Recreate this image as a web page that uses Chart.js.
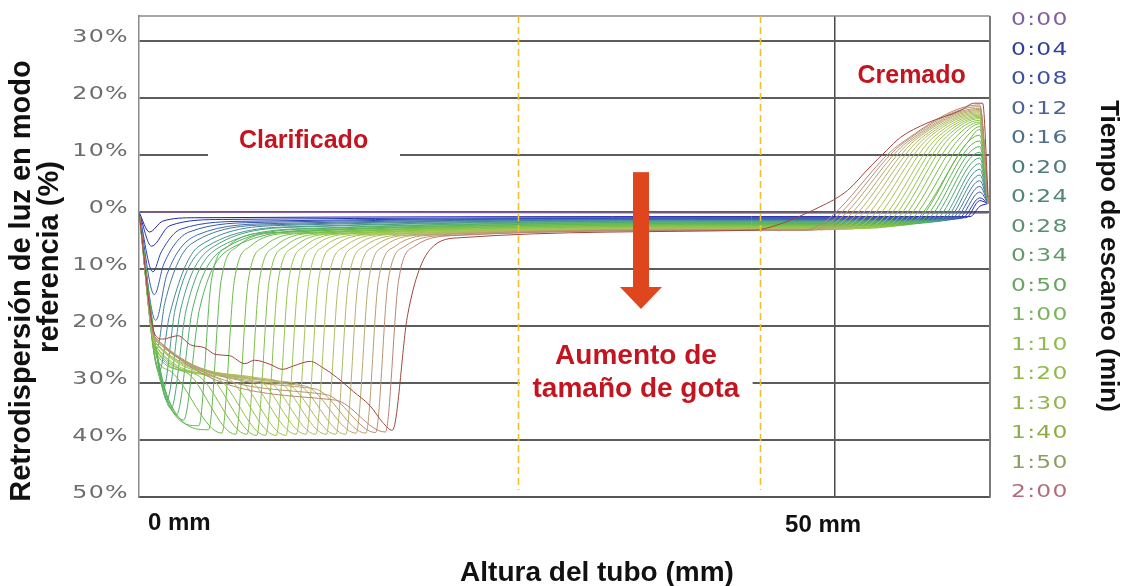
<!DOCTYPE html>
<html>
<head>
<meta charset="utf-8">
<title>Retrodispersión de luz</title>
<script src="https://cdn.jsdelivr.net/npm/chart.js"></script>
<style>
  html, body { margin: 0; padding: 0; background: #fff; }
  #wrap { width: 1124px; height: 586px; }
</style>
</head>
<body>
<div id="wrap"><canvas id="bsChart" width="1124" height="586"></canvas></div>
<script>
// axis ticks
const yTickValues = [30, 20, 10, 0, -10, -20, -30, -40, -50];
const xTickValues = [0, 50];
const xTickLabels = ["0 mm", "50 mm"];
const markerMm = [27.2, 44.6]; // yellow dashed lines

// right-hand time legend
const legendTimes = ["0:00", "0:04", "0:08", "0:12", "0:16", "0:20", "0:24", "0:28", "0:34",
  "0:50", "1:00", "1:10", "1:20", "1:30", "1:40", "1:50", "2:00"];
const legendColors = ["#7f5f9f", "#303f97", "#3e50a0", "#4e6394", "#4e6f87", "#4d7a7f", "#4f8677",
  "#599170", "#5f9a68", "#67a560", "#7bb357", "#8dbc4f", "#91ba4a", "#93b54e", "#8cae46", "#8a9e62", "#b06e7a"];

// one entry per scan (oldest first): mm / %
const dropX    = [null, 0.75, 0.9, 1.0, 1.1, 1.2, 1.3, 1.45, 1.4, 1.35, 1.35, 1.3, 1.3, 1.25, 1.2, 1.2, 1.2,
  1.2, 1.2, 1.2, 1.2, 1.2, 1.2, 1.2, 1.2, 1.2, 1.2, 1.2, 1.15, 1.15, 1.15, 1.15, 1.15];
const dropPct  = [null, -3.5, -6, -10.5, -14.5, -19, -24, -28, -27, -26, -26, -25, -25, -27, -26, -25, -24.5,
  -24, -24, -23.5, -23.5, -23, -23, -23, -23, -22.5, -22.5, -22.5, -22.5, -22, -22, -22, -21.5];
const shoulderX   = [null, null, null, null, null, null, null, null, null, null, null, null, null, null, null,
  2.3, 3.3, 4.1, 4.8, 5.5, 6.2, 6.9, 7.6, 8.3, 9.1, 9.8, 10.5, 11.2, 11.9, 12.6, 13.4, 14.1, null];
const shoulderPct = [null, null, null, null, null, null, null, null, null, null, null, null, null, null, null,
  -28, -28, -28.5, -28.5, -29, -29, -29, -29, -29, -29.5, -29.5, -30, -30, -30.5, -31, -32, -33, null];
const bottomX   = [null, null, null, null, null, null, null, null, 1.75, 2.0, 2.3, 2.7, 3.2, 4.3, 5.0, 5.95, 6.95,
  7.75, 8.45, 9.1, 9.85, 10.55, 11.3, 12.0, 12.7, 13.45, 14.15, 14.85, 15.6, 16.3, 17.0, 17.7, 18.2];
const bottomPct = [null, null, null, null, null, null, null, null, -31, -33, -34.5, -35.5, -36.5, -37.5, -38.2, -38.8, -39,
  -39, -39.2, -39.2, -39.2, -39.2, -39, -39, -39, -39, -39, -39, -38.8, -38.8, -38.7, -38.6, -38.3];
const riseX   = [null, null, null, 1.6, 1.8, 2.0, 1.85, 2.2, 2.6, 3.0, 3.4, 3.85, 4.35, 5.2, 5.9, 6.85, 7.85,
  8.65, 9.35, 10.0, 10.75, 11.45, 12.2, 12.9, 13.6, 14.35, 15.05, 15.75, 16.5, 17.2, 17.9, 18.65, 19.3];
const risePct = [null, null, null, -7, -9, -11, -16, -18, -17, -17, -17, -17, -17, -12, -12, -12, -12,
  -12, -12, -12, -12, -12, -12, -12, -12, -12, -12, -12, -12, -12, -12, -12, -18];
const kneeX   = [null, 1.7, 2.2, 3.0, 3.6, 4.2, 3.8, 4.3, 4.9, 5.4, 5.9, 6.4, 6.9, 6.4, 7.1, 8.0, 9.0,
  9.8, 10.5, 11.2, 11.9, 12.6, 13.3, 14.0, 14.8, 15.5, 16.2, 16.9, 17.6, 18.4, 19.1, 19.8, 20.9];
const kneePct = [null, -1.6, -2.4, -3, -3.5, -4, -5.5, -6, -6, -6, -6, -6, -6, -6, -6, -6, -6,
  -6, -6, -6, -6, -6, -6, -6, -6, -6, -6, -6, -6, -6, -6, -6, -6.6];
const flatX   = [null, 4, 6, 8, 9, 10, 10, 11, 12, 12, 13, 13, 14, 9.5, 10.2, 11.1, 12.1,
  12.9, 13.6, 14.3, 15.0, 15.7, 16.4, 17.1, 17.9, 18.6, 19.3, 20.0, 20.7, 21.5, 22.2, 22.9, 23.1];
const flatPct = [null, -1.0, -1.3, -1.6, -1.8, -2.0, -2.2, -2.3, -2.5, -2.6, -2.8, -2.9, -3.0, -3.6, -3.6, -3.7, -3.7,
  -3.7, -3.8, -3.8, -3.8, -3.8, -3.9, -3.9, -3.9, -3.9, -4.0, -4.0, -4.0, -4.0, -4.1, -4.1, -4.5];
const midPct  = [-0.2, -0.8, -1.0, -1.1, -1.2, -1.3, -1.4, -1.5, -1.6, -1.7, -1.8, -1.9, -2.0, -2.1, -2.2, -2.3, -2.4,
  -2.5, -2.6, -2.7, -2.8, -2.8, -2.9, -2.9, -3.0, -3.0, -3.0, -3.1, -3.1, -3.1, -3.2, -3.2, -3.2];
// cream (top of tube)
const creamX  = [null, 59.7, 59.4, 59.1, 58.8, 58.5, 58.2, 57.9, 57.6, 57.3, 56.9, 56.5, 56.1, 55.7, 55.3, 55.0, 54.6,
  54.2, 53.8, 53.4, 53.0, 52.6, 52.2, 51.7, 51.2, 50.7, 50.2, 49.7, 49.2, 48.7, 48.2, 47.7, null];
const creamKneeX   = [null, null, null, null, null, null, null, null, null, null, null, null, null, null, null, 59.5, 59.2,
  58.9, 58.6, 58.3, 58.0, 57.7, 57.4, 57.1, 56.8, 56.5, 56.2, 55.9, 55.6, 55.3, 55.0, 54.7, null];
const creamKneePct = [null, null, null, null, null, null, null, null, null, null, null, null, null, null, null, 12.2, 12.5,
  12.8, 13.0, 13.2, 13.2, 13.2, 13.2, 13.2, 13.2, 13.1, 13.0, 12.9, 12.7, 12.5, 12.3, 12.0, null];
const creamPeak = [null, 1.0, 2.0, 2.5, 3.5, 4.5, 5.5, 6.5, 7.5, 8.5, 9.5, 10.5, 11.5, 12.5, 13.5, 14.5, 15.0,
  15.5, 15.8, 16.1, 16.4, 16.6, 16.8, 17.0, 17.2, 17.4, 17.6, 17.8, 18.0, 18.2, 18.5, 18.8, null];
const edgePct = [-0.2, 1.5, 1.5, 1.5, 1.5, 1.5, 1.5, 1.5, 1.5, 1.5, 1.5, 1.5, 1.5, 1.5, 1.5, 1.5, 1.5,
  1.5, 1.5, 1.5, 1.5, 1.5, 1.5, 1.5, 1.5, 1.5, 1.5, 1.5, 1.5, 1.5, 1.5, 1.5, 2.6];

// last scan (2:00) traced in more detail
const finalPlateau = [[1.7, -22.3], [2.8, -21.7], [3.7, -23.3], [4.7, -23.8], [5.5, -25], [6.5, -25.2],
  [7.6, -26.6], [8.3, -26], [9.4, -26.7], [10.3, -27.6], [11.1, -27], [12.3, -26.2], [13.2, -27.3],
  [14.2, -29], [15.4, -31.5], [16.6, -34], [17.5, -36.9]];
const finalCream = [[44.6, -3.1], [48.9, 0.9], [50.9, 3.8], [52.5, 7.9], [53.7, 10.8], [54.7, 13.1],
  [56.6, 15.6], [59.0, 17.8], [60.0, 19.1], [60.6, 19.1]];

const scanColors = ["#9060b4", "#1f1fb0", "#2430b0", "#2d45b0", "#3558ae", "#3c6aa8", "#417a9e", "#458896",
  "#48948c", "#4b9f80", "#4ea874", "#52ae66", "#56b35a", "#5cb650", "#64b84a", "#6cba46", "#74bc44",
  "#7cbe44", "#84c046", "#8cc248", "#94c44c", "#9cc550", "#a2c454", "#a8c258", "#acbf5c", "#b0bb60",
  "#b2b664", "#b4b068", "#b5a86c", "#b69e70", "#b89274", "#b88478", "#a0463c"];

const plateauEndMm = 44;
const creamPeakMm = 60.4;
const edgeMm = 61.0;
const finalIndex = scanColors.length - 1;

function scanPoints(i) {
  const pts = [{ x: 0, y: 0 }];
  const add = (x, y) => { if (x !== null && y !== null) pts.push({ x: x, y: y }); };
  add(dropX[i], dropPct[i]);
  if (i === finalIndex) finalPlateau.forEach(p => add(p[0], p[1]));
  add(shoulderX[i], shoulderPct[i]);
  add(bottomX[i], bottomPct[i]);
  add(riseX[i], risePct[i]);
  add(kneeX[i], kneePct[i]);
  add(flatX[i], flatPct[i]);
  add(plateauEndMm, midPct[i]);
  if (i === finalIndex) {
    finalCream.forEach(p => add(p[0], p[1]));
  } else {
    add(creamX[i], midPct[i]);
    add(creamKneeX[i], creamKneePct[i]);
    add(creamPeakMm, creamPeak[i]);
  }
  add(edgeMm, edgePct[i]);
  return pts;
}

const datasets = scanColors.map((c, i) => ({
  data: scanPoints(i),
  borderColor: c,
  borderWidth: 1,
  pointRadius: 0,
  fill: false,
  tension: 0.4,
  cubicInterpolationMode: "monotone",
  order: finalIndex - i
}));

const RED = "#c3141f";

// draws a wide-looking label (the original uses a broad geometric face)
function wideText(ctx, txt, px, py, stretch) {
  ctx.save();
  ctx.translate(px, py);
  ctx.scale(stretch, 1);
  ctx.fillText(txt, 0, 0);
  ctx.restore();
}

// grid gaps, dashed lines, arrow, labels
const decor = {
  id: "decor",
  beforeDatasetsDraw(chart) {
    const { ctx, scales: { x, y } } = chart;
    ctx.save();
    ctx.fillStyle = "#fff";
    // boxes behind the annotation texts
    ctx.fillRect(208, y.getPixelForValue(10) - 8, 192, 16);
    ctx.fillRect(x.getPixelForValue(markerMm[0]) + 2, y.getPixelForValue(-30) - 8, 233, 16);
    ctx.restore();
  },
  afterDatasetsDraw(chart) {
    const { ctx, chartArea: a, scales: { x, y } } = chart;
    ctx.save();
    // top and right frame
    ctx.strokeStyle = "#8a8a8a";
    ctx.lineWidth = 1.5;
    ctx.beginPath();
    ctx.moveTo(a.left, a.top); ctx.lineTo(a.right, a.top);
    ctx.stroke();
    ctx.strokeStyle = "#7a7a7a";
    ctx.lineWidth = 2;
    ctx.beginPath();
    ctx.moveTo(a.right, a.top); ctx.lineTo(a.right, a.bottom);
    ctx.stroke();

    // yellow dashed markers
    ctx.strokeStyle = "#f0c028";
    ctx.lineWidth = 1.6;
    ctx.setLineDash([7, 4]);
    markerMm.forEach(m => {
      const px = Math.round(x.getPixelForValue(m)) + 0.5;
      ctx.beginPath();
      ctx.moveTo(px, a.top);
      ctx.lineTo(px, a.bottom - 7);
      ctx.stroke();
    });
    ctx.setLineDash([]);

    // arrow
    const ax = x.getPixelForValue(36.06);
    const aTop = y.getPixelForValue(7.0);
    const aTip = y.getPixelForValue(-17.0);
    ctx.fillStyle = "#e0461e";
    ctx.fillRect(ax - 8, aTop, 16, aTip - aTop - 21);
    ctx.beginPath();
    ctx.moveTo(ax - 21, aTip - 22);
    ctx.lineTo(ax + 21, aTip - 22);
    ctx.lineTo(ax, aTip);
    ctx.closePath();
    ctx.fill();

    // red annotations
    ctx.fillStyle = RED;
    ctx.textAlign = "center";
    ctx.textBaseline = "alphabetic";
    ctx.font = "bold 25px 'Liberation Sans', Arial, sans-serif";
    ctx.fillText("Clarificado", x.getPixelForValue(11.82), y.getPixelForValue(11.2));
    ctx.fillText("Cremado", x.getPixelForValue(55.5), y.getPixelForValue(22.7));
    ctx.font = "bold 28px 'Liberation Sans', Arial, sans-serif";
    ctx.fillText("Aumento de", x.getPixelForValue(35.7), y.getPixelForValue(-26.7));
    ctx.fillText("tamaño de gota", x.getPixelForValue(35.7), y.getPixelForValue(-32.5));
    ctx.restore();
  },
  afterDraw(chart) {
    const { ctx, scales: { x, y } } = chart;
    ctx.save();
    // y tick labels (negatives shown without sign)
    ctx.fillStyle = "#6c6c6c";
    ctx.font = "18px 'DejaVu Sans', sans-serif";
    ctx.textAlign = "right";
    ctx.textBaseline = "alphabetic";
    if ("letterSpacing" in ctx) ctx.letterSpacing = "1px";
    yTickValues.forEach(v => {
      wideText(ctx, Math.abs(v) + "%", 129, y.getPixelForValue(v) + 1, 1.32);
    });

    // legend of scan times
    ctx.textAlign = "left";
    legendTimes.forEach((t, i) => {
      ctx.fillStyle = legendColors[i];
      wideText(ctx, t, 1011, 25 + i * 29.5, 1.3);
    });
    if ("letterSpacing" in ctx) ctx.letterSpacing = "0px";

    // x tick labels
    ctx.fillStyle = "#111";
    ctx.font = "bold 24px 'Liberation Sans', Arial, sans-serif";
    ctx.textAlign = "left";
    ctx.fillText(xTickLabels[0], x.getPixelForValue(xTickValues[0]) + 9, 530);
    ctx.textAlign = "center";
    ctx.fillText(xTickLabels[1], x.getPixelForValue(xTickValues[1]) - 12, 532);

    // axis titles
    ctx.font = "bold 28px 'Liberation Sans', Arial, sans-serif";
    ctx.fillText("Altura del tubo (mm)", 597, 581);

    ctx.textBaseline = "middle";
    ctx.font = "bold 29px 'Liberation Sans', Arial, sans-serif";
    ctx.save();
    ctx.translate(22, 281);
    ctx.rotate(-Math.PI / 2);
    ctx.fillText("Retrodispersión de luz en modo", 0, 0);
    ctx.restore();
    ctx.save();
    ctx.translate(50, 257);
    ctx.rotate(-Math.PI / 2);
    ctx.fillText("referencia (%)", 0, 0);
    ctx.restore();

    ctx.font = "bold 26px 'Liberation Sans', Arial, sans-serif";
    ctx.save();
    ctx.translate(1108, 256);
    ctx.rotate(Math.PI / 2);
    ctx.fillText("Tiempo de escaneo (min)", 0, 0);
    ctx.restore();
    ctx.restore();
  }
};

new Chart(document.getElementById("bsChart"), {
  type: "line",
  data: { datasets: datasets },
  options: {
    responsive: false,
    animation: false,
    events: [],
    layout: { padding: { left: 139, top: 16, right: 134, bottom: 89 } },
    plugins: { legend: { display: false }, tooltip: { enabled: false } },
    scales: {
      x: {
        type: "linear",
        min: 0,
        max: 61.13,
        afterBuildTicks: s => { s.ticks = [{ value: xTickValues[1] }]; },
        afterFit: s => { s.height = 0; },
        ticks: { display: false },
        grid: { color: "#4a4a4a", lineWidth: 1.5, drawTicks: false },
        border: { display: true, color: "#555", width: 2 }
      },
      y: {
        type: "linear",
        min: -50,
        max: 34.4,
        afterBuildTicks: s => { s.ticks = yTickValues.map(v => ({ value: v })); },
        afterFit: s => { s.width = 0; },
        ticks: { display: false },
        grid: { color: "#5c5c5c", lineWidth: 2, drawTicks: false },
        border: { display: true, color: "#8a8a8a", width: 1.5 }
      }
    }
  },
  plugins: [decor]
});
</script>
</body>
</html>
